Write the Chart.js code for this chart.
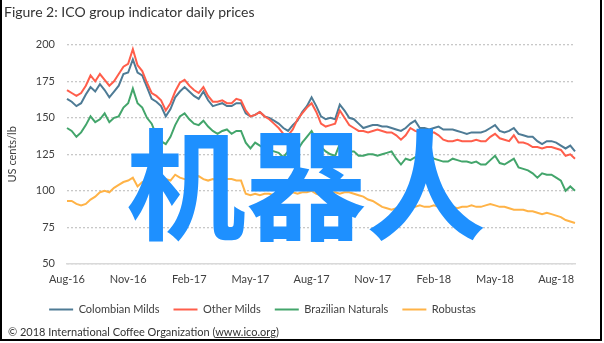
<!DOCTYPE html>
<html>
<head>
<meta charset="utf-8">
<script src="https://cdn.jsdelivr.net/npm/chart.js@4.4.0/dist/chart.umd.min.js"></script>
<style>
  body { margin: 0; background: #fff; }
  #frame { position: absolute; left: 0; top: -2px; width: 598px; height: 341px; border: 2px solid #000; border-top: none; }
  #wrap { position: absolute; left: 2px; top: 0; width: 596px; height: 332px; }
  #foot { position: absolute; left: 8px; top: 325px; font: 11px Lato, sans-serif; color: #333; }
  #foot span { text-decoration: underline; }
  #mark { position: absolute; left: 126px; top: 119px; font: 700 120px "Noto Sans CJK SC", sans-serif; line-height: 1; color: #1e90ff; white-space: nowrap; }
</style>
</head>
<body>
<div id="frame"></div>
<div id="wrap"><canvas id="chart"></canvas></div>
<div id="foot">© 2018 International Coffee Organization (<span>www.ico.org</span>)</div>
<div id="mark">机器人</div>
<script>
// weekly readings, Aug 2016 - Aug 2018 (US cents/lb)
const colombianMilds = [
  163, 161, 158, 160, 166, 171, 168, 173, 169, 164,
  168, 172, 180, 181, 190, 181, 179, 171, 163, 161,
  158, 151, 156, 164, 168, 171, 168, 165, 163, 168,
  162, 158, 159, 160, 158, 158, 160, 160, 153, 151,
  152, 154, 151, 150, 148, 146, 143, 141, 145, 148,
  154, 158, 164, 158, 151, 149, 150, 149, 159, 155,
  150, 149, 146, 143, 144, 145, 145, 144, 144, 143,
  142, 141, 143, 146, 148, 143, 143, 142, 143, 144,
  142, 142, 142, 141, 140, 139, 140, 140, 140, 141,
  143, 145, 141, 140, 141, 143, 139, 138, 137, 137,
  134, 132, 134, 134, 133, 131, 129, 131, 127
];
const otherMilds = [
  169, 167, 165, 167, 172, 179, 175, 180, 176, 172,
  175, 180, 185, 187, 197, 186, 182, 174, 167, 165,
  162, 155, 160, 168, 174, 176, 172, 169, 167, 171,
  165, 161, 161, 162, 160, 160, 163, 162, 155, 151,
  152, 154, 151, 149, 146, 143, 139, 138, 142, 149,
  153, 157, 160, 154, 146, 144, 145, 146, 155, 150,
  145, 143, 141, 141, 140, 141, 142, 141, 140, 140,
  138, 135, 138, 143, 141, 140, 139, 139, 140, 138,
  135, 134, 134, 135, 134, 134, 134, 135, 134, 134,
  137, 139, 136, 135, 134, 138, 133, 133, 132, 130,
  130, 129, 130, 130, 129, 128, 124, 125, 122
];
const brazilianNaturals = [
  143, 141, 137, 140, 145, 151, 147, 149, 153, 147,
  150, 151, 157, 160, 170, 160, 157, 150, 146, 138,
  134, 132, 137, 145, 151, 153, 149, 146, 145, 148,
  144, 141, 139, 141, 142, 139, 141, 141, 133, 129,
  133, 131, 129, 128, 127, 126, 123, 127, 126, 128,
  133, 137, 141, 135, 130, 127, 125, 124, 132, 128,
  127, 127, 124, 124, 125, 125, 124, 125, 126, 127,
  122, 118, 122, 121, 123, 122, 124, 125, 122, 121,
  120, 120, 122, 121, 120, 120, 119, 120, 118, 118,
  121, 124, 119, 118, 120, 122, 116, 115, 114, 112,
  109, 112, 111, 111, 109, 107, 100, 103, 100
];
const robustas = [
  93, 93, 91, 90, 91, 94, 96, 99, 100, 99,
  102, 104, 106, 107, 109, 103, 106, 107, 107, 106,
  107, 108, 107, 111, 109, 108, 107, 109, 110, 108,
  107, 108, 107, 108, 108, 108, 107, 107, 98, 97,
  98, 97, 98, 98, 97, 98, 97, 98, 99, 98,
  99, 99, 100, 98, 97, 97, 99, 99, 98, 99,
  99, 98, 97, 96, 94, 93, 91, 89, 88, 87,
  88, 87, 87, 88, 89, 90, 89, 89, 90, 89,
  89, 89, 89, 88, 89, 89, 90, 89, 89, 90,
  91, 90, 89, 89, 88, 87, 87, 87, 86, 86,
  85, 84, 85, 84, 83, 82, 80, 79, 78
];
const tickLabels = ['Aug-16', 'Nov-16', 'Feb-17', 'May-17', 'Aug-17', 'Nov-17', 'Feb-18', 'May-18', 'Aug-18'];
const tickWeeks = [0, 13, 26, 39, 52, 65, 78, 91, 104];

// one category per week starting 1 Aug 2016
const weeks = [];
for (let i = 0; i < colombianMilds.length; i++) {
  const d = new Date(2016, 7, 1 + i * 7);
  weeks.push(d.toISOString().slice(0, 10));
}

const txt = '#404040';
const fontFam = 'Lato, sans-serif';

// nudge the legend left and up, like the original sheet
const legendShift = {
  id: 'legendShift',
  afterLayout(chart) {
    const lg = chart.legend;
    lg.left -= 27;
    lg.right -= 27;
    lg.top -= 5;
    lg.bottom -= 5;
  }
};

const ctx = document.getElementById('chart');
new Chart(ctx, {
  type: 'line',
  data: {
    labels: weeks,
    datasets: [
      { label: 'Colombian Milds', data: colombianMilds, borderColor: '#4e7b95', backgroundColor: '#4e7b95', order: 4 },
      { label: 'Other Milds', data: otherMilds, borderColor: '#ff5e4b', backgroundColor: '#ff5e4b', order: 3 },
      { label: 'Brazilian Naturals', data: brazilianNaturals, borderColor: '#43a56b', backgroundColor: '#43a56b', order: 2 },
      { label: 'Robustas', data: robustas, borderColor: '#ffb347', backgroundColor: '#ffb347', order: 1 }
    ]
  },
  options: {
    responsive: true,
    maintainAspectRatio: false,
    animation: false,
    elements: {
      point: { radius: 0 },
      line: { borderWidth: 2, tension: 0 }
    },
    layout: { padding: { left: 2, right: 23, top: 0, bottom: 2 } },
    plugins: {
      title: {
        display: true,
        text: 'Figure 2: ICO group indicator daily prices',
        align: 'start',
        color: '#333',
        font: { family: fontFam, size: 14, weight: 'normal' },
        padding: { top: 4, bottom: 24 }
      },
      legend: {
        position: 'bottom',
        labels: {
          color: txt,
          font: { family: fontFam, size: 11 },
          boxWidth: 24,
          boxHeight: 2,
          padding: 14,
          sort: (a, b) => a.datasetIndex - b.datasetIndex,
          generateLabels(chart) {
            return Chart.defaults.plugins.legend.labels.generateLabels(chart).map(it => {
              it.lineWidth = 0;
              it.fillStyle = it.strokeStyle;
              return it;
            });
          }
        }
      },
      tooltip: { enabled: false }
    },
    scales: {
      x: {
        offset: false,
        grid: { display: false, drawTicks: false },
        border: { display: true, color: '#d9d9d9', width: 1.5 },
        afterBuildTicks(scale) {
          scale.ticks = scale.ticks.filter(t => tickWeeks.includes(t.value));
        },
        ticks: {
          autoSkip: false,
          maxRotation: 0,
          minRotation: 0,
          padding: 9,
          color: txt,
          font: { family: fontFam, size: 11 },
          callback(value) {
            return tickLabels[tickWeeks.indexOf(value)];
          }
        }
      },
      y: {
        min: 50,
        max: 200,
        afterFit(scale) { scale.width = 63; },
        grid: { color: '#c8c8c8', lineWidth: 1.3, drawTicks: false },
        border: { display: false, dash: [2, 2] },
        ticks: {
          stepSize: 25,
          padding: 12,
          color: txt,
          font: { family: fontFam, size: 11 }
        },
        title: {
          display: true,
          text: 'US cents/lb',
          color: txt,
          font: { family: fontFam, size: 11 },
          padding: { top: 2, bottom: 0 }
        }
      }
    }
  },
  plugins: [legendShift]
});
</script>
</body>
</html>
